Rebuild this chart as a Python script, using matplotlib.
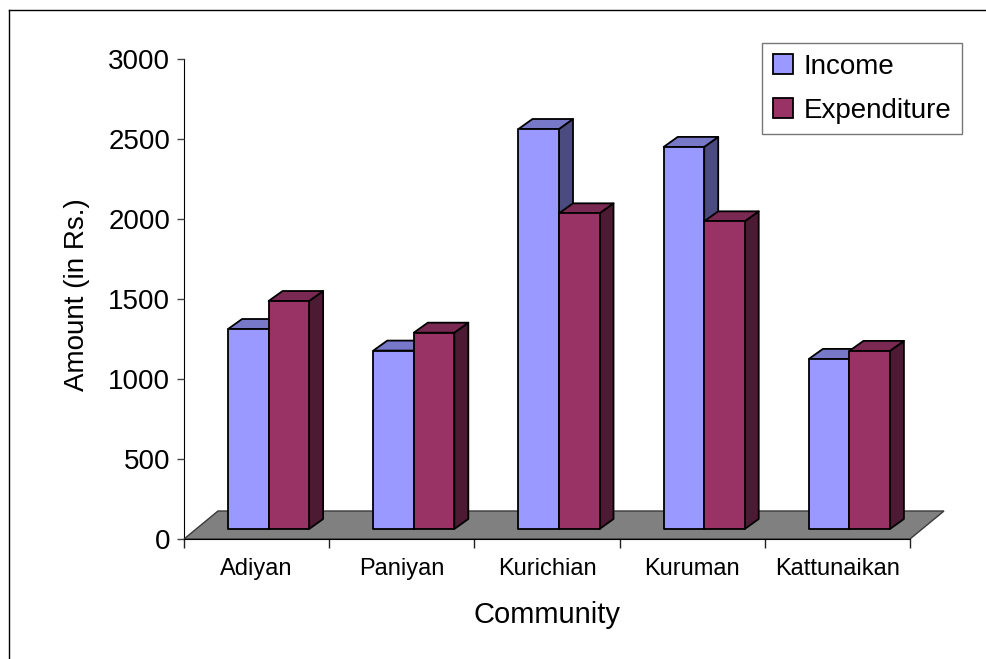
import matplotlib
matplotlib.use("Agg")
import matplotlib.pyplot as plt
from matplotlib.patches import Polygon, Rectangle, Patch
from matplotlib.lines import Line2D

plt.rcParams['font.family'] = ['Liberation Sans', 'DejaVu Sans']

communities = ['Adiyan', 'Paniyan', 'Kurichian', 'Kuruman', 'Kattunaikan']
income = [1250, 1115, 2500, 2388, 1063]
expenditure = [1425, 1227, 1973, 1923, 1113]
series = ['Income', 'Expenditure']

# face colours: front, top, side
inc_cols = ('#9999FF', '#7878C8', '#4B4B80')
exp_cols = ('#993366', '#7A2952', '#4D1A33')

W, H = 986, 659
fig = plt.figure(figsize=(W / 100, H / 100), dpi=100)
ax = fig.add_axes([184 / W, 1 - 539 / H, 726 / W, 480 / H])
ax.set_xlim(0, 5)
ax.set_ylim(0, 3000)

# pixel -> data unit helpers for the pseudo 3d depth
ux = 5 / 726.0
uy = 3000 / 480.0
floor_dx, floor_dy = 34 * ux, 28 * uy
shift_dx, shift_dy = 12 * ux, 10 * uy
depth_dx, depth_dy = 14 * ux, 10 * uy
bar_w = 0.279

# floor of the plot
floor = Polygon([(0, 0), (5, 0), (5 + floor_dx, floor_dy), (floor_dx, floor_dy)],
                closed=True, facecolor='#808080', edgecolor='#3a3a3a', lw=1,
                clip_on=False, zorder=1)
ax.add_patch(floor)


def box(x0, v, cols):
    x = x0 + shift_dx
    y0 = shift_dy
    x1 = x + bar_w
    top = y0 + v
    kw = dict(edgecolor='black', lw=1.3, clip_on=False, zorder=3, joinstyle='round')
    ax.add_patch(Polygon([(x1, y0), (x1 + depth_dx, y0 + depth_dy),
                          (x1 + depth_dx, top + depth_dy), (x1, top)],
                         facecolor=cols[2], **kw))
    ax.add_patch(Polygon([(x, top), (x1, top), (x1 + depth_dx, top + depth_dy),
                          (x + depth_dx, top + depth_dy)],
                         facecolor=cols[1], **kw))
    ax.add_patch(Rectangle((x, y0), bar_w, v, facecolor=cols[0], **kw))


for i in range(len(communities)):
    box(i + 0.5 - bar_w, income[i], inc_cols)
    box(i + 0.5, expenditure[i], exp_cols)

# axes styling
for s in ['top', 'right']:
    ax.spines[s].set_visible(False)
ax.spines['left'].set_color('black')
ax.spines['bottom'].set_color('black')
ax.spines['left'].set_zorder(0)
ax.spines['bottom'].set_zorder(2)

ax.set_yticks(range(0, 3001, 500))
ax.tick_params(axis='y', labelsize=20, length=5, width=1, color='#444444', pad=5)
ax.set_xticks(range(0, 6))
ax.set_xticklabels([])
ax.set_xticks([i + 0.5 for i in range(5)], minor=True)
ax.set_xticklabels(communities, minor=True, fontsize=17)
ax.tick_params(axis='x', which='major', length=6.5, width=1, color='#222222')
ax.tick_params(axis='x', which='minor', length=0, pad=13.5)

ax.set_ylabel('Amount (in Rs.)', fontsize=20)
ax.yaxis.set_label_coords(-0.130, 0.51)
ax.set_xlabel('Community', fontsize=21, va='center')
ax.xaxis.set_label_coords(0.5, -(615 - 539) / 480)

handles = [Patch(facecolor=inc_cols[0], edgecolor='black', lw=1.3),
           Patch(facecolor=exp_cols[0], edgecolor='black', lw=1.3)]
leg = ax.legend(handles, series, loc='upper right',
                bbox_to_anchor=(962 / W, 1 - 43 / H), bbox_transform=fig.transFigure,
                fontsize=20, frameon=True, fancybox=False, borderaxespad=0,
                handlelength=0.72, handleheight=0.72, handletextpad=0.4,
                labelspacing=0.65, borderpad=0.38)
leg.get_frame().set_edgecolor('#555555')
leg.get_frame().set_linewidth(1)

# outer chart border
fig.add_artist(Line2D([9 / W, 9 / W], [0, 1 - 10 / H], color='black', lw=1))
fig.add_artist(Line2D([9 / W, 1], [1 - 10 / H, 1 - 10 / H], color='black', lw=1))

fig.savefig('out.png', dpi=100)
